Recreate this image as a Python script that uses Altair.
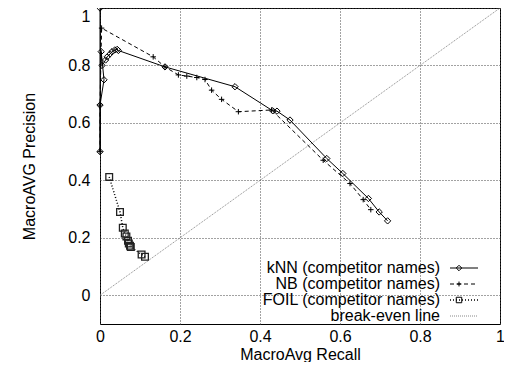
import altair as alt
import pandas as pd

# ---- data ----
knn_recall = [0.0, 0.0, 0.0, 0.01, 0.003, 0.005, 0.014, 0.018, 0.025, 0.03, 0.037, 0.043, 0.046,
              0.1625, 0.3375, 0.432, 0.4425, 0.475, 0.567, 0.607, 0.671, 0.698, 0.719]
knn_precision = [1.0, 0.5, 0.662, 0.75, 0.848, 0.80, 0.819, 0.83, 0.84, 0.848, 0.854, 0.856, 0.852,
                 0.795, 0.726, 0.642, 0.641, 0.61, 0.476, 0.424, 0.337, 0.29, 0.259]

nb_recall = [0.0, 0.0, 0.004, 0.133, 0.1625, 0.196, 0.217, 0.242, 0.2625, 0.279, 0.304, 0.346,
             0.429, 0.558, 0.625, 0.658, 0.677]
nb_precision = [0.5, 0.662, 0.93, 0.83, 0.795, 0.767, 0.763, 0.758, 0.751, 0.714, 0.682, 0.639,
                0.645, 0.47, 0.389, 0.333, 0.298]

foil_recall = [0.023, 0.05, 0.057, 0.062, 0.066, 0.07, 0.072, 0.075, 0.077, 0.104, 0.1125]
foil_precision = [0.412, 0.29, 0.235, 0.215, 0.205, 0.19, 0.18, 0.172, 0.168, 0.142, 0.134]

diag_values = [0.0, 1.0]

x_ticks = [0, 0.2, 0.4, 0.6, 0.8, 1]
y_ticks = [0, 0.2, 0.4, 0.6, 0.8, 1]

legend_labels = ["kNN (competitor names)", "NB (competitor names)",
                 "FOIL (competitor names)", "break-even line"]


def frame(r, p):
    return pd.DataFrame({"recall": r, "precision": p, "idx": list(range(len(r)))})


knn_df = frame(knn_recall, knn_precision)
nb_df = frame(nb_recall, nb_precision)
foil_df = frame(foil_recall, foil_precision)
diag_df = frame(diag_values, diag_values)

FONT = "Liberation Sans"
FS = 16
PLUS = "M-1,0L1,0M0,-1L0,1"

X = alt.X("recall:Q", scale=alt.Scale(domain=[0, 1], nice=False, zero=False),
          axis=alt.Axis(values=x_ticks, format="~g", title="MacroAvg Recall",
                        labelFlush=False, labelPadding=4, titlePadding=2))
Y = alt.Y("precision:Q", scale=alt.Scale(domain=[-0.1, 1], nice=False, zero=False),
          axis=alt.Axis(values=y_ticks, format="~g", title="MacroAVG Precision",
                        labelFlush=True, labelPadding=10, titlePadding=30))
O = alt.Order("idx:Q")

diag = alt.Chart(diag_df).mark_line(color="#888888", strokeWidth=1, strokeDash=[1, 1]).encode(x=X, y=Y, order=O)

knn_line = alt.Chart(knn_df).mark_line(color="black", strokeWidth=1).encode(x=X, y=Y, order=O)
knn_pts = alt.Chart(knn_df).mark_point(shape="diamond", size=40, filled=False, color="black",
                                       strokeWidth=1, opacity=1).encode(x=X, y=Y)

nb_line = alt.Chart(nb_df).mark_line(color="black", strokeWidth=1, strokeDash=[4, 3]).encode(x=X, y=Y, order=O)
nb_pts = alt.Chart(nb_df).mark_point(shape=PLUS, size=30, filled=False, color="black",
                                     strokeWidth=1, opacity=1).encode(x=X, y=Y)

foil_line = alt.Chart(foil_df).mark_line(color="black", strokeWidth=1.5, strokeDash=[1, 2]).encode(x=X, y=Y, order=O)
foil_pts = alt.Chart(foil_df).mark_point(shape="square", size=45, filled=False, color="#222222",
                                         strokeWidth=1.3, opacity=1).encode(x=X, y=Y)

# ---- manual legend (gnuplot style: label on the left, sample on the right) ----
row_y = [260, 276, 292, 308]
text_x = 340
line_x0, line_x1, mark_x = 350, 378, 359
styles = [
    dict(dash=[1, 0], color="black", width=1, shape="diamond", size=30),
    dict(dash=[4, 3], color="black", width=1, shape=PLUS, size=24),
    dict(dash=[1, 2], color="black", width=1.5, shape="square", size=30),
    dict(dash=[1, 1], color="#888888", width=1, shape=None, size=0),
]

legend_layers = []
for label, yy, st in zip(legend_labels, row_y, styles):
    src = alt.Data(values=[{"label": label}])
    legend_layers.append(
        alt.Chart(src).mark_text(align="right", baseline="middle", font=FONT, fontSize=FS, color="black")
        .encode(x=alt.value(text_x), y=alt.value(yy), text="label:N")
    )
    legend_layers.append(
        alt.Chart(src).mark_rule(color=st["color"], strokeWidth=st["width"], strokeDash=st["dash"])
        .encode(x=alt.value(line_x0), x2=alt.value(line_x1), y=alt.value(yy))
    )
    if st["shape"]:
        legend_layers.append(
            alt.Chart(src).mark_point(shape=st["shape"], size=st["size"], filled=False, color="black",
                                      strokeWidth=1, opacity=1)
            .encode(x=alt.value(mark_x), y=alt.value(yy))
        )

chart = alt.layer(diag, foil_line, foil_pts, nb_line, nb_pts, knn_line, knn_pts, *legend_layers).properties(
    width=400, height=316,
    autosize=alt.AutoSizeParams(type="none"),
    padding={"left": 92, "top": 0, "right": 4, "bottom": 38},
).configure_view(
    stroke="black", strokeWidth=1
).configure_axis(
    labelFont=FONT, titleFont=FONT, labelFontSize=FS, titleFontSize=FS,
    titleFontWeight="normal", labelColor="black", titleColor="black",
    domain=False, ticks=False,
    grid=True, gridColor="#444444", gridDash=[1, 2], gridWidth=1, gridOpacity=1,
)

chart.save("out.html", embed_options={"renderer": "svg", "actions": False})
